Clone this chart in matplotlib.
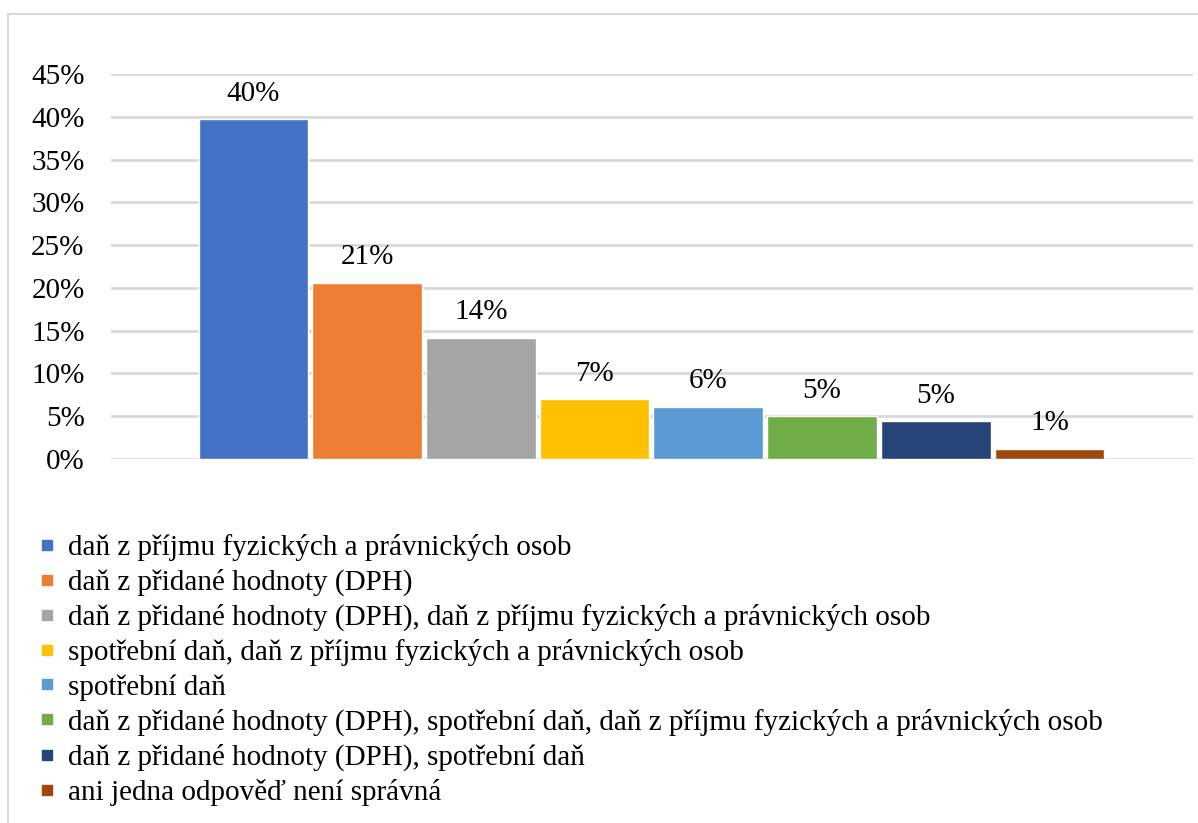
import matplotlib
matplotlib.use("Agg")
import matplotlib.pyplot as plt
import matplotlib.patches as patches
from matplotlib.lines import Line2D

plt.rcParams['font.family'] = ['Liberation Serif', 'DejaVu Serif']

categories = [
    "daň z příjmu fyzických a právnických osob",
    "daň z přidané hodnoty (DPH)",
    "daň z přidané hodnoty (DPH), daň z příjmu fyzických a právnických osob",
    "spotřební daň, daň z příjmu fyzických a právnických osob",
    "spotřební daň",
    "daň z přidané hodnoty (DPH), spotřební daň, daň z příjmu fyzických a právnických osob",
    "daň z přidané hodnoty (DPH), spotřební daň",
    "ani jedna odpověď není správná",
]
values = [0.397, 0.206, 0.142, 0.070, 0.061, 0.050, 0.044, 0.012]
labels = ["40%", "21%", "14%", "7%", "6%", "5%", "5%", "1%"]
colors = ["#4472C4", "#ED7D31", "#A5A5A5", "#FFC000",
          "#5B9BD5", "#70AD47", "#264478", "#9E480E"]
yticks = [0, 0.05, 0.10, 0.15, 0.20, 0.25, 0.30, 0.35, 0.40, 0.45]

W, H = 1198, 823
fig = plt.figure(figsize=(W / 100, H / 100), dpi=100)

# chart frame (Excel style, clipped at right and bottom)
fig.patches.append(patches.Rectangle((8 / W, -0.01), 1.2, (H - 14) / H + 0.01,
                                     transform=fig.transFigure, fill=False,
                                     edgecolor="#d9d9d9", linewidth=1.5))

ax = fig.add_axes([111 / W, (H - 459) / H, (1193 - 111) / W, (459 - 74) / H])

for i, (v, c, lab) in enumerate(zip(values, colors, labels)):
    ax.bar(i, v, width=0.965, color=c, edgecolor="white", linewidth=1, zorder=3)
    ax.annotate(lab, (i, v), xytext=(0, 9), textcoords="offset points",
                ha="center", va="bottom", fontsize=21)

ax.set_xlim(-1.253, 8.262)
ax.set_ylim(0, 0.45)
ax.set_yticks(yticks)
ax.set_yticklabels([f"{int(round(t * 100))}%" for t in yticks], fontsize=21)
ax.set_xticks([])
ax.yaxis.grid(True, color="#d9d9d9", linewidth=2, zorder=0)
ax.tick_params(axis="y", length=0, pad=19)
for s in ax.spines.values():
    s.set_visible(False)

handles = [Line2D([], [], marker="s", linestyle="none", markersize=7,
                  markerfacecolor=c, markeredgecolor=c) for c in colors]
fig.legend(handles, categories, loc="upper left", bbox_to_anchor=(40 / W, 1 - 534 / H),
           frameon=False, fontsize=21, handlelength=0.5, handletextpad=0.45,
           labelspacing=0.27, borderpad=0, borderaxespad=0)

fig.savefig("out.png", dpi=100)
plt.close(fig)
